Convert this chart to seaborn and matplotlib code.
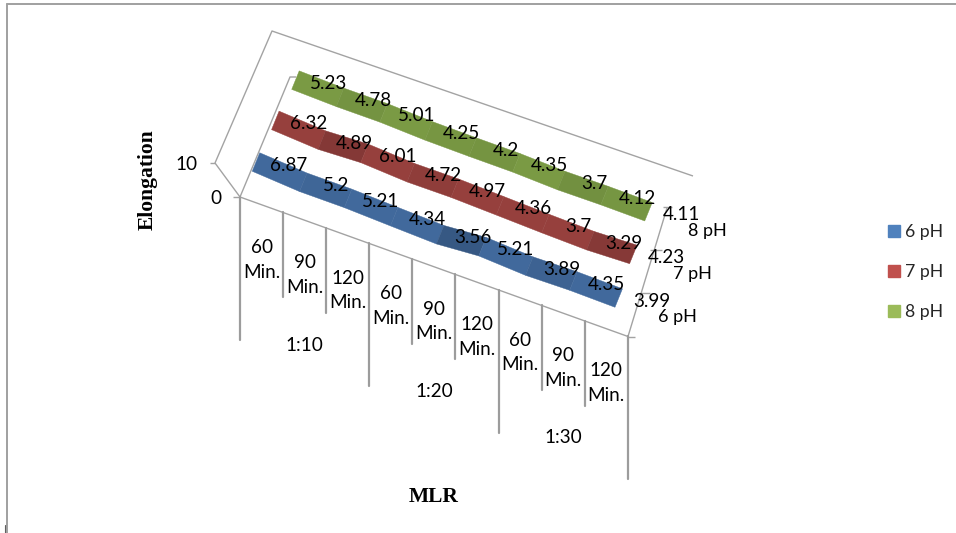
import numpy as np
import pandas as pd
import matplotlib
matplotlib.use('Agg')
import matplotlib.pyplot as plt
import seaborn as sns
from matplotlib.patches import Patch

series_names = ['6 pH', '7 pH', '8 pH']
ph6_values = [6.87, 5.2, 5.21, 4.34, 3.56, 5.21, 3.89, 4.35, 3.99]
ph7_values = [6.32, 4.89, 6.01, 4.72, 4.97, 4.36, 3.7, 3.29, 4.23]
ph8_values = [5.23, 4.78, 5.01, 4.25, 4.2, 4.35, 3.7, 4.12, 4.11]
time_labels = ['60\nMin.', '90\nMin.', '120\nMin.'] * 3
mlr_labels = ['1:10', '1:20', '1:30']
z_ticks = [0, 10]

ribbon_colors = ['#41699c', '#96403d', '#7a9a44']
legend_colors = ['#4f81bd', '#c0504d', '#9bbb59']
grey = '#a3a3a3'


def project(i, j, v):
    # oblique 3d to pixel position, fitted by eye on the picture
    x = 266.3 + 44.8 * i + (18.5 - 0.44 * i) * j - 1.5 * v
    y = 179.2 + 16.1 * i - 43.0 * j - 2.5 * v
    return np.array([x, y])


def axis_point(k):
    # category boundaries on the front edge of the floor
    return np.array([240 + 43.1 * k, 197 + 15.44 * k])


def shade(color, delta):
    f = 1 - np.clip(0.03 + 0.08 * delta, 0, 0.2)
    return tuple(np.array(matplotlib.colors.to_rgb(color)) * f)


sns.set_theme(style='white')
plt.rcParams['font.family'] = ['Lato', 'DejaVu Sans']

fig = plt.figure(figsize=(9.56, 5.33), dpi=100)
ax = fig.add_axes([0, 0, 1, 1])
ax.set_xlim(0, 956)
ax.set_ylim(533, 0)
ax.axis('off')

# walls and floor outline
outline = [
    ([240, 215, 272, 693], [197, 163, 31, 176]),
    ([240, 290, 296], [197, 77, 77]),
    ([240, 628, 667], [197, 336.5, 208]),
    ([233, 240], [197, 197]),
    ([210, 215], [163, 163]),
    ([628, 635], [336.5, 336.5]),
    ([640, 650], [293, 293]),
    ([650, 662], [250, 250]),
    ([663, 672], [207, 207]),
]
for xs, ys in outline:
    ax.plot(xs, ys, color=grey, lw=1.0, solid_capstyle='butt')

# drop lines of the two level category axis
rows = []
for k in range(10):
    start = axis_point(k)
    length = 143 if k % 3 == 0 else 85
    rows.append({'k': k, 'x': start[0], 'y': start[1]})
    rows.append({'k': k, 'x': start[0], 'y': start[1] + length})
drops = pd.DataFrame(rows)
sns.lineplot(data=drops, x='x', y='y', units='k', estimator=None, sort=False,
             color='#9c9c9c', lw=1.6, ax=ax, legend=False)
ax.set_xlim(0, 956)
ax.set_ylim(533, 0)

# ribbons, one polygon per step
width = np.array([7.5, -18.5])
all_values = [ph6_values, ph7_values, ph8_values]
for j, values in enumerate(all_values):
    for i in range(len(values) - 1):
        a = project(i, j, values[i])
        b = project(i + 1, j, values[i + 1])
        poly = np.array([a - width / 2, b - width / 2, b + width / 2, a + width / 2])
        c = shade(ribbon_colors[j], values[i + 1] - values[i])
        ax.fill(poly[:, 0], poly[:, 1], color=c, lw=0.3, zorder=3)

# value labels
text_size = 13.6
for j, values in enumerate(all_values):
    for i, v in enumerate(values):
        p = project(i, j, v)
        ax.text(p[0] + 33, p[1] + 3, str(v), fontsize=text_size, color='black',
                ha='center', va='center', zorder=5)

# series names on the depth axis
for j, name in enumerate(series_names):
    p = project(8, j, 0)
    ax.text(p[0] + 53, p[1] + 9, name, fontsize=13, color='black',
            ha='center', va='center')

# category labels
for k, label in enumerate(time_labels):
    p = (axis_point(k) + axis_point(k + 1)) / 2
    ax.text(p[0], p[1] + 55, label, fontsize=text_size, color='black', ha='center',
            va='center', linespacing=1.55)
for g, label in enumerate(mlr_labels):
    p = (axis_point(3 * g) + axis_point(3 * g + 3)) / 2
    ax.text(p[0], p[1] + 125, label, fontsize=text_size, color='black', ha='center',
            va='center')

# value axis
ax.text(216, 198, str(z_ticks[0]), fontsize=text_size, color='black', ha='center', va='center')
ax.text(186, 165, str(z_ticks[1]), fontsize=text_size, color='black', ha='center', va='center')

ax.text(148, 180, 'Elongation', family='Liberation Serif', fontweight='bold', fontsize=15.5,
        color='black', rotation=90, ha='center', va='center')
ax.text(434, 497, 'MLR', family='Liberation Serif', fontweight='bold', fontsize=15.5,
        color='black', ha='center', va='center')

handles = [Patch(color=c, label=n) for c, n in zip(legend_colors, series_names)]
ax.legend(handles=handles, loc='center left', bbox_to_anchor=(888, 272),
          bbox_transform=ax.transData, frameon=False, fontsize=12.7,
          handlelength=0.68, handleheight=0.68, handletextpad=0.3, labelspacing=1.35,
          borderpad=0, borderaxespad=0)

# chart frame
ax.plot([7, 956], [4, 4], color='#a0a0a0', lw=1.4)
ax.plot([7, 7], [4, 533], color='#a0a0a0', lw=1.4)
ax.plot([5, 5], [525, 533], color='#606060', lw=0.8)

fig.savefig('out.png', dpi=100)
